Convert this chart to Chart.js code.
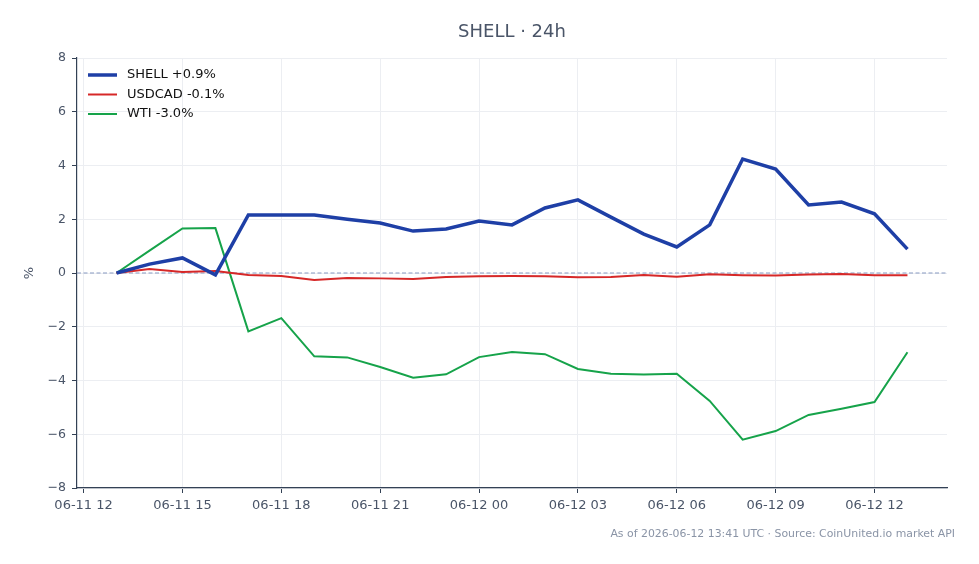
<!DOCTYPE html>
<html>
<head>
<meta charset="utf-8">
<script src="https://cdn.jsdelivr.net/npm/chart.js@4/dist/chart.umd.min.js"></script>
<style>
  html, body { margin: 0; padding: 0; background: #fff; }
  #wrap { width: 979px; height: 564px; }
</style>
</head>
<body>
<div id="wrap"><canvas id="grafico" width="979" height="564"></canvas></div>
<script>
// hours since 06-11 12:00 UTC
const hours = [1, 2, 3, 4, 5, 6, 7, 8, 9, 10, 11, 12, 13, 14, 15, 16, 17, 18, 19, 20, 21, 22, 23, 24, 25];
const shell = [0, 0.33, 0.56, -0.07, 2.16, 2.16, 2.16, 2.0, 1.86, 1.56, 1.64, 1.93, 1.79, 2.42, 2.72, 2.08, 1.45, 0.97, 1.79, 4.24, 3.87, 2.53, 2.64, 2.2, 0.89];
const usdcad = [0, 0.15, 0.04, 0.07, -0.07, -0.11, -0.26, -0.19, -0.2, -0.22, -0.15, -0.12, -0.11, -0.12, -0.16, -0.15, -0.07, -0.14, -0.05, -0.08, -0.09, -0.06, -0.04, -0.08, -0.08];
const wti = [0, 0.83, 1.66, 1.67, -2.17, -1.68, -3.1, -3.14, -3.5, -3.9, -3.77, -3.13, -2.94, -3.02, -3.57, -3.75, -3.78, -3.75, -4.76, -6.2, -5.88, -5.28, -5.05, -4.8, -2.95];
const xTickHours = [0, 3, 6, 9, 12, 15, 18, 21, 24];
const xTickLabels = ['06-11 12', '06-11 15', '06-11 18', '06-11 21', '06-12 00', '06-12 03', '06-12 06', '06-12 09', '06-12 12'];
const yTicks = [-8, -6, -4, -2, 0, 2, 4, 6, 8];

const textColor = '#4a5568';
const pts = arr => arr.map((v, i) => ({ x: hours[i], y: v }));

// zero line, title over the plot, legend inside the plot, footer note
const extras = {
  id: 'extras',
  beforeDatasetsDraw(chart) {
    const { ctx, chartArea, scales } = chart;
    const y0 = scales.y.getPixelForValue(0);
    ctx.save();
    ctx.strokeStyle = '#8799c0';
    ctx.lineWidth = 1;
    ctx.setLineDash([4, 2.5]);
    ctx.beginPath();
    ctx.moveTo(chartArea.left, y0);
    ctx.lineTo(chartArea.right, y0);
    ctx.stroke();
    ctx.restore();
  },
  afterDraw(chart) {
    const { ctx, chartArea } = chart;
    ctx.save();
    ctx.textBaseline = 'middle';
    ctx.textAlign = 'center';
    ctx.font = '18px "DejaVu Sans"';
    ctx.fillStyle = textColor;
    ctx.fillText('SHELL · 24h', (chartArea.left + chartArea.right) / 2, 32);

    ctx.textAlign = 'left';
    ctx.font = '13px "DejaVu Sans"';
    chart.data.datasets.forEach((ds, i) => {
      const y = chartArea.top + 17 + i * 19.5;
      const x = chartArea.left + 11;
      ctx.strokeStyle = ds.borderColor;
      ctx.lineWidth = ds.borderWidth;
      ctx.beginPath();
      ctx.moveTo(x, y);
      ctx.lineTo(x + 29, y);
      ctx.stroke();
      ctx.fillStyle = '#111';
      ctx.fillText(ds.label, x + 39, y);
    });

    ctx.font = '10.9px "DejaVu Sans"';
    ctx.fillStyle = '#8a94a6';
    ctx.textAlign = 'right';
    ctx.fillText('As of 2026-06-12 13:41 UTC · Source: CoinUnited.io market API', 955, 534);
    ctx.restore();
  }
};

const ctx = document.getElementById('grafico').getContext('2d');
new Chart(ctx, {
  type: 'line',
  data: {
    datasets: [
      { label: 'SHELL +0.9%', data: pts(shell), borderColor: '#1e3fa6', borderWidth: 3.5 },
      { label: 'USDCAD -0.1%', data: pts(usdcad), borderColor: '#d62828', borderWidth: 2 },
      { label: 'WTI -3.0%', data: pts(wti), borderColor: '#16a34a', borderWidth: 2 }
    ]
  },
  options: {
    responsive: false,
    animation: false,
    events: [],
    elements: { point: { radius: 0 }, line: { tension: 0 } },
    layout: { padding: { left: 0, right: 32, top: 58, bottom: 0 } },
    plugins: {
      legend: { display: false },
      tooltip: { enabled: false }
    },
    scales: {
      x: {
        type: 'linear',
        min: -0.2,
        max: 26.2,
        afterBuildTicks: s => { s.ticks = xTickHours.map(v => ({ value: v })); },
        afterFit: s => { s.height = 76; },
        grid: { color: '#eceef2', tickColor: '#334155', tickLength: 5 },
        border: { color: '#334155', width: 1.2 },
        ticks: {
          color: textColor,
          padding: 5,
          maxRotation: 0,
          font: { family: 'DejaVu Sans', size: 13 },
          callback: v => xTickLabels[xTickHours.indexOf(v)]
        }
      },
      y: {
        min: -8,
        max: 8,
        afterBuildTicks: s => { s.ticks = yTicks.map(v => ({ value: v })); },
        afterFit: s => { s.width = 77; },
        grid: { color: '#eceef2', tickColor: '#334155', tickLength: 5 },
        border: { color: '#334155', width: 1.2 },
        title: {
          display: true,
          text: '%',
          color: textColor,
          font: { family: 'DejaVu Sans', size: 13 },
          padding: { top: 22, bottom: 0 }
        },
        ticks: {
          color: textColor,
          padding: 6,
          font: { family: 'DejaVu Sans', size: 12.5 },
          callback: v => (v < 0 ? '\u2212' + Math.abs(v) : String(v))
        }
      }
    }
  },
  plugins: [extras]
});
</script>
</body>
</html>
